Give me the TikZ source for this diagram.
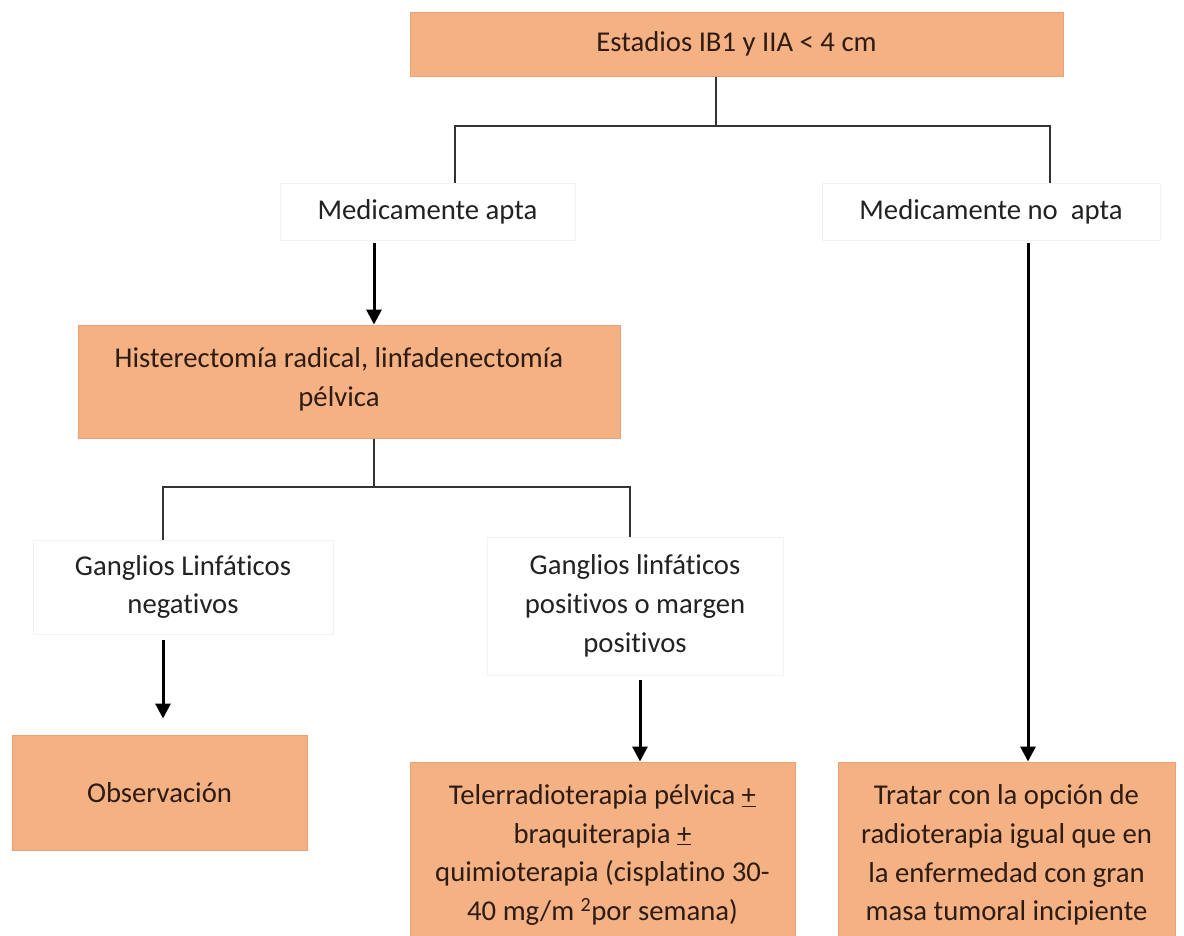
\documentclass[tikz,border=0pt]{standalone}
\usepackage{fontspec}
\setmainfont[Ligatures=NoCommon]{Carlito}
\usetikzlibrary{arrows.meta}
\definecolor{peach}{HTML}{F4B183}
\definecolor{peachedge}{HTML}{E8A274}
\definecolor{ink}{HTML}{2E1C12}
\definecolor{greyink}{HTML}{222222}
\begin{document}
\begin{tikzpicture}[x=1pt,y=-1pt,
  orangebox/.style={rectangle,fill=peach,draw=peachedge,line width=1pt,
    text=ink,align=center,inner sep=0pt},
  plainbox/.style={rectangle,fill=white,draw=black!5,line width=0.8pt,
    text=greyink,align=center,inner sep=0pt},
  label/.style={text=ink,align=center,inner sep=0pt},
  txt/.style={font=\fontsize{28.7}{38.7}\selectfont},
  link/.style={draw=black!80,line width=1.6pt},
  arr/.style={draw=black,line width=3pt,-{Triangle[length=15pt,width=15pt]}}]
\useasboundingbox (0,0) rectangle (1184,935);
\fill[white] (0,0) rectangle (1184,935);

% boxes
\node[orangebox,txt,minimum width=653pt,minimum height=64pt] (top) at (736.5,44)
  {Estadios IB1 y IIA < 4 cm};
\node[plainbox,txt,minimum width=295pt,minimum height=57pt] (apta) at (427.5,211.5)
  {Medicamente apta};
\node[plainbox,txt,minimum width=338pt,minimum height=57pt] (noapta) at (991,211.5)
  {Medicamente no\ \ apta};
\node[orangebox,minimum width=542pt,minimum height=113pt] (hist) at (349,381.5) {};
\node[label,txt] (histtext) at (339,379)
  {Histerectomía radical, linfadenectomía\\pélvica};
\node[plainbox,txt,minimum width=300pt,minimum height=94pt] (neg) at (183,587)
  {Ganglios Linfáticos\\negativos};
\node[plainbox,txt,minimum width=296pt,minimum height=138pt] (pos) at (635,606)
  {Ganglios linfáticos\\positivos o margen\\positivos};
\node[orangebox,txt,minimum width=295pt,minimum height=115pt] (obs) at (159.5,792.5)
  {Observación};
\node[orangebox,minimum width=385pt,minimum height=200pt] (tele) at (602.5,862) {};
\node[label,txt] (teletext) at (602.5,855)
  {Telerradioterapia pélvica \underline{+}\\braquiterapia \underline{+}\\quimioterapia (cisplatino 30-\\40 mg/m \textsuperscript{2}por semana)};
\node[orangebox,minimum width=337pt,minimum height=200pt] (trat) at (1006.5,862) {};
\node[label,txt] (trattext) at (1006.5,855)
  {Tratar con la opción de\\radioterapia igual que en\\la enfermedad con gran\\masa tumoral incipiente};

% branch points
\coordinate (s1) at (716,126);
\coordinate (b1l) at (455,126);
\coordinate (b1r) at (1050,126);
\coordinate (s2) at (374,487);
\coordinate (b2l) at (163,487);
\coordinate (b2r) at (630,487);
\coordinate (xa) at (374,0);
\coordinate (xn) at (163,0);
\coordinate (xp) at (640,0);
\coordinate (xr) at (1028,0);

% tree connectors
\draw[link] (top.south -| s1) -- (s1);
\draw[link] (apta.north -| b1l) -- (b1l) -- (b1r) -- (noapta.north -| b1r);
\draw[link] (hist.south -| s2) -- (s2);
\draw[link] (neg.north -| b2l) -- (b2l) -- (b2r) -- (pos.north -| b2r);

% arrows
\draw[arr,shorten <=3pt] (apta.south -| xa) -- (hist.north -| xa);
\draw[arr,shorten <=6pt,shorten >=16pt] (neg.south -| xn) -- (obs.north -| xn);
\draw[arr,shorten <=5pt] (pos.south -| xp) -- (tele.north -| xp);
\draw[arr,shorten <=3pt] (noapta.south -| xr) -- (trat.north -| xr);
\end{tikzpicture}
\end{document}
